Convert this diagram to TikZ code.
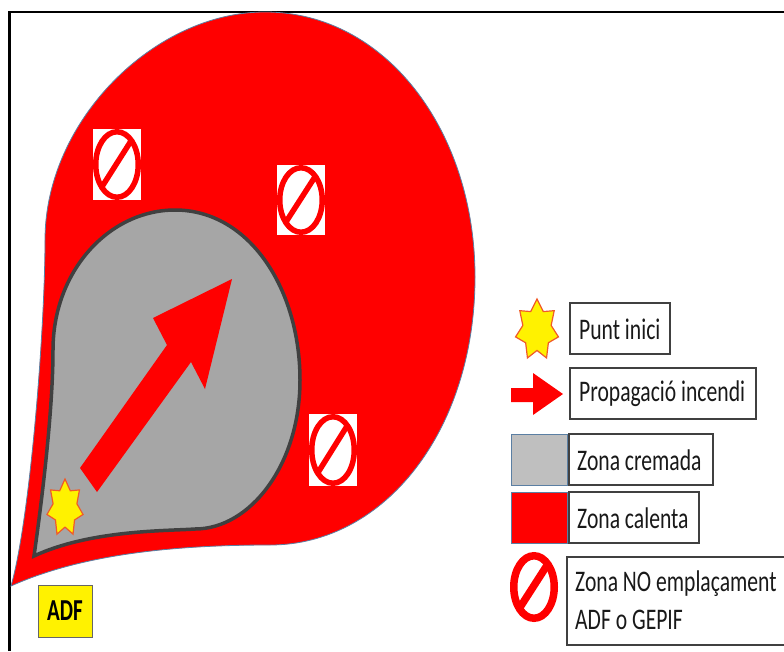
\documentclass[tikz,border=0pt]{standalone}
\usepackage{fontspec}
\usepackage{graphicx}
\setmainfont{Carlito}
\definecolor{edgeblue}{HTML}{5B7FA3}
\definecolor{burnt}{HTML}{A6A6A6}
\definecolor{burntedge}{HTML}{404040}
\definecolor{legendgray}{HTML}{BFBFBF}
\definecolor{staredge}{HTML}{F05A28}
\tikzset{
  x=1pt,y=-1pt,
  legendbox/.style={draw=black!75,line width=1.1pt,fill=white},
  legendtext/.style={anchor=west,inner sep=0pt,font=\fontsize{23}{27}\selectfont,text=black!90},
  starshape/.style={fill=yellow,draw=staredge,line width=1.2pt,line join=miter},
}
\newcommand{\lgtxt}[1]{\scalebox{.94}[1.3]{#1}}
\newcommand{\noicon}[6]{% x1,y1,x2,y2, white box flag, ring width
  \ifnum#5=1 \fill[white] (#1,#2) rectangle (#3,#4);\fi
  \path ({(#1+#3)/2},{(#2+#4)/2}) coordinate (c);
  \draw[red,line width=#6pt] (c) ellipse [x radius={(#3-#1)/2-#6/2},y radius={(#4-#2)/2-#6/2}];
  \draw[red,line width=#6pt] ({#1+0.19*(#3-#1)},{#2+0.81*(#4-#2)}) -- ({#1+0.79*(#3-#1)},{#2+0.17*(#4-#2)});
}
\newcommand{\sevenstar}[4]{% cx,cy,rx,ry
  \draw[starshape] ({#1+#3*sin(0)},{#2-#4*cos(0)})
  \foreach \k in {1,...,13}{
    -- ({#1+#3*(1-0.34*mod(\k,2))*sin(\k*360/14)},{#2-#4*(1-0.34*mod(\k,2))*cos(\k*360/14)})
  } -- cycle;
}
\begin{document}
\begin{tikzpicture}
\useasboundingbox (0,0) rectangle (784,651);
\fill[white] (0,0) rectangle (784,651);
% frame
\draw[black,line width=2.4pt] (9.5,651) -- (9.5,12) -- (784,12);
% hot zone
\fill[red,draw=edgeblue,line width=0.8pt] (11,586)
  .. controls (30,520) and (45,330) .. (45,240)
  .. controls (45,120) and (155,12) .. (265,12)
  .. controls (385,12) and (475,130) .. (475,277)
  .. controls (475,430) and (385,545) .. (270,545)
  .. controls (170,545) and (80,555) .. (11,586) -- cycle;
% burnt zone
\draw[fill=burnt,draw=burntedge,line width=3.5pt,line join=miter] (34,556)
  .. controls (42,500) and (53,410) .. (53,350)
  .. controls (53,270) and (110,210) .. (175,210)
  .. controls (250,210) and (300,290) .. (300,380)
  .. controls (300,465) and (250,529) .. (195,529)
  .. controls (165,531) and (90,530) .. (34,556) -- cycle;
% propagation arrow
\fill[red] (80,468) -- (167,345) -- (153,318) -- (232,279) -- (205,389) -- (191,362) -- (97,492) -- cycle;
% start star
\sevenstar{65}{508}{18.5}{29}
% prohibited zones
\noicon{93}{129}{141}{200}{1}{5.5}
\noicon{277}{165}{325}{235}{1}{5.5}
\noicon{309}{414}{357}{486}{1}{5.5}
% ADF
\node[draw=black!60,line width=1pt,fill=yellow,minimum width=54pt,minimum height=52pt,inner sep=0pt,font=\bfseries\fontsize{21}{25}\selectfont] (adf) at (65,611) {\scalebox{1}[1.45]{ADF}};
% legend
\sevenstar{537}{330}{22}{31}
\draw[legendbox] (570,303) rectangle (670,354);
\node[legendtext] (punt) at (579,329) {\lgtxt{Punt inici}};
\fill[red] (511,388) -- (533,388) -- (533,373) -- (563,394) -- (533,415) -- (533,402) -- (511,402) -- cycle;
\draw[legendbox] (570,368) rectangle (756,419);
\node[legendtext] (prop) at (579,394) {\lgtxt{Propagació incendi}};
\draw[draw=edgeblue,line width=1pt,fill=legendgray] (511,434) rectangle (567,485);
\draw[legendbox] (569,434) rectangle (713,485);
\node[legendtext] (crem) at (577,460) {\lgtxt{Zona cremada}};
\draw[draw=edgeblue,line width=1pt,fill=red] (511,492) rectangle (567,543);
\draw[legendbox] (569,492) rectangle (699,543);
\node[legendtext] (cal) at (577,518) {\lgtxt{Zona calenta}};
\noicon{510}{552}{558}{622}{0}{7.5}
\draw[legendbox] (567,557) rectangle (790,645);
\node[legendtext] (no1) at (575,584) {\lgtxt{Zona NO emplaçament}};
\node[legendtext] (no2) at (575,620) {\lgtxt{ADF o GEPIF}};
\end{tikzpicture}
\end{document}
